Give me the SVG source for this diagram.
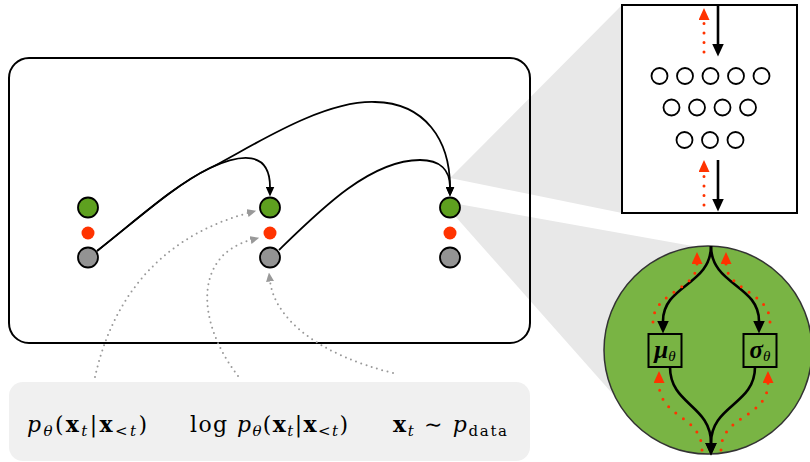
<svg xmlns="http://www.w3.org/2000/svg" width="810" height="462" viewBox="0 0 810 462">
<style>
.edge{fill:none;stroke:#000;stroke-width:1.8}
.gdot{fill:none;stroke:#999;stroke-width:2;stroke-dasharray:0 5.5;stroke-linecap:round}
.rdot{fill:none;stroke:#ff3300;stroke-width:3;stroke-dasharray:0 9.5;stroke-linecap:round}
.thick{fill:none;stroke:#000;stroke-width:2.6}
.green{fill:#5ea01f;stroke:#000;stroke-width:1.8}
.gray{fill:#939393;stroke:#000;stroke-width:1.8}
.red{fill:#ff3300}
.unit{fill:#fff;stroke:#000;stroke-width:1.8}
.wedge{fill:#e8e8e8}
.math{font-family:"DejaVu Serif","Liberation Serif",serif;font-size:22px;fill:#000}
.mathb{font-family:"Liberation Serif",serif;font-size:25px;fill:#000}
.it{font-style:italic}
.bf{font-weight:bold}
.sub{font-size:15px}
</style>
<defs>
<marker id="ah" markerUnits="userSpaceOnUse" viewBox="0 0 10 9" markerWidth="10" markerHeight="9" refX="0.5" refY="4.5" orient="auto"><path d="M0,0L10,4.5L0,9z" fill="#000"/></marker>
<marker id="ahg" markerUnits="userSpaceOnUse" viewBox="0 0 9 8" markerWidth="9" markerHeight="8" refX="0.5" refY="4" orient="auto"><path d="M0,0L9,4L0,8z" fill="#999"/></marker>
<marker id="ahb" markerUnits="userSpaceOnUse" viewBox="0 0 13 12" markerWidth="13" markerHeight="12" refX="0.5" refY="6" orient="auto"><path d="M0,0L13,6L0,12z" fill="#000"/></marker>
<marker id="ahr" markerUnits="userSpaceOnUse" viewBox="0 0 12 11" markerWidth="12" markerHeight="11" refX="0" refY="5.5" orient="auto"><path d="M0,0L12,5.5L0,11z" fill="#ff3300"/></marker>
</defs>
<rect width="810" height="462" fill="#fff"/>

<!-- zoom wedges -->
<polygon class="wedge" points="450,178 622,5 622,213"/>
<polygon class="wedge" points="458,204 726,252 708,350 634,418 455,216"/>

<!-- main box -->
<rect x="9" y="58" width="521" height="285" rx="20" fill="none" stroke="#000" stroke-width="2"/>

<!-- bottom label panel -->
<rect x="9" y="382" width="521" height="79" rx="14" fill="#f0f0f0"/>

<g id="connectors">
<path class="edge" d="M97,251 C140,217 175,185 210,168 C240,154 270,150 270,187" marker-end="url(#ah)"/>
<path class="edge" d="M97,251 C140,217 175,185 210,168 C245,151 320,100 375,102 C425,103 450,140 450,187" marker-end="url(#ah)"/>
<path class="edge" d="M279,250 C320,210 370,160 420,160 C440,160 450,170 450,187" marker-end="url(#ah)"/>
<path class="gdot" d="M95,377 C110,310 150,240 248,213" marker-end="url(#ahg)"/>
<path class="gdot" d="M238,376 C195,320 195,255 251,240" marker-end="url(#ahg)"/>
<path class="gdot" d="M393,373 C320,355 275,320 270,281" marker-end="url(#ahg)"/>
</g>

<g id="node-t1">
<circle class="green" cx="88" cy="207.5" r="10"/>
<circle class="red" cx="88" cy="233" r="6.5"/>
<circle class="gray" cx="88" cy="257.5" r="10"/>
</g>
<g id="node-t2">
<circle class="green" cx="270" cy="207.5" r="10"/>
<circle class="red" cx="270" cy="233" r="6.5"/>
<circle class="gray" cx="270" cy="257.5" r="10"/>
</g>
<g id="node-t3">
<circle class="green" cx="450" cy="207.5" r="10"/>
<circle class="red" cx="450" cy="233" r="6.5"/>
<circle class="gray" cx="450" cy="257.5" r="10"/>
</g>

<g id="labels">
<text class="math" x="27" y="432" textLength="120" lengthAdjust="spacing"><tspan class="it">p</tspan><tspan class="it sub" dy="4">θ</tspan><tspan dy="-4">(</tspan><tspan class="bf">x</tspan><tspan class="it sub" dy="4">t</tspan><tspan dy="-4">|</tspan><tspan class="bf">x</tspan><tspan class="sub" dy="4">&lt;</tspan><tspan class="it sub">t</tspan><tspan dy="-4">)</tspan></text>
<text class="math" x="190" y="432" textLength="158" lengthAdjust="spacing"><tspan>log </tspan><tspan class="it">p</tspan><tspan class="it sub" dy="4">θ</tspan><tspan dy="-4">(</tspan><tspan class="bf">x</tspan><tspan class="it sub" dy="4">t</tspan><tspan dy="-4">|</tspan><tspan class="bf">x</tspan><tspan class="sub" dy="4">&lt;</tspan><tspan class="it sub">t</tspan><tspan dy="-4">)</tspan></text>
<text class="math" x="393" y="432" textLength="114" lengthAdjust="spacing"><tspan class="bf">x</tspan><tspan class="it sub" dy="4">t</tspan><tspan dy="-4"> ∼ </tspan><tspan class="it">p</tspan><tspan class="sub" dy="4">data</tspan></text>
</g>

<g id="network-zoom">
<rect x="622" y="5" width="175" height="208" fill="#fff" stroke="#000" stroke-width="2"/>
<circle class="unit" cx="659.5" cy="76" r="8"/>
<circle class="unit" cx="685" cy="76" r="8"/>
<circle class="unit" cx="710.5" cy="76" r="8"/>
<circle class="unit" cx="736" cy="76" r="8"/>
<circle class="unit" cx="761.5" cy="76" r="8"/>
<circle class="unit" cx="671.5" cy="107.5" r="8"/>
<circle class="unit" cx="697" cy="107.5" r="8"/>
<circle class="unit" cx="722.5" cy="107.5" r="8"/>
<circle class="unit" cx="748" cy="107.5" r="8"/>
<circle class="unit" cx="684.5" cy="140" r="8"/>
<circle class="unit" cx="710" cy="140" r="8"/>
<circle class="unit" cx="735.5" cy="140" r="8"/>
<path class="thick" d="M718,5 L718,44" marker-end="url(#ahb)"/>
<path class="thick" d="M718,160 L718,199" marker-end="url(#ahb)"/>
<path class="rdot" d="M704,52 L704,20" marker-end="url(#ahr)"/>
<path class="rdot" d="M704,205 L704,172" marker-end="url(#ahr)"/>
</g>

<g id="output-zoom">
<circle cx="708" cy="350" r="104" fill="#79b444" stroke="#333" stroke-width="1.5"/>
<path class="thick" d="M711,246 C711,285 663,285 663,321" marker-end="url(#ahb)"/>
<path class="thick" d="M711,246 C711,285 759,285 759,321" marker-end="url(#ahb)"/>
<path class="thick" d="M670,367 C670,405 711,405 711,443" marker-end="url(#ahb)"/>
<path class="thick" d="M755,367 C755,405 711,405 711,443" marker-end="url(#ahb)"/>
<path class="rdot" d="M653,322 C653,292 697,290 697,264" marker-end="url(#ahr)"/>
<path class="rdot" d="M770,322 C770,292 726,290 726,264" marker-end="url(#ahr)"/>
<path class="rdot" d="M702,450 C702,415 659,418 659,383" marker-end="url(#ahr)"/>
<path class="rdot" d="M721,450 C721,415 768,418 768,383" marker-end="url(#ahr)"/>
<g id="mu">
<rect x="648.5" y="334" width="33" height="33" fill="none" stroke="#000" stroke-width="2"/>
<text class="mathb" x="665" y="358" text-anchor="middle"><tspan class="it bf">μ</tspan><tspan class="it sub" dy="3">θ</tspan></text>
</g>
<g id="sigma">
<rect x="743.5" y="334" width="33" height="33" fill="none" stroke="#000" stroke-width="2"/>
<text class="mathb" x="760" y="358" text-anchor="middle"><tspan class="it bf">σ</tspan><tspan class="it sub" dy="3">θ</tspan></text>
</g>
</g>
</svg>
